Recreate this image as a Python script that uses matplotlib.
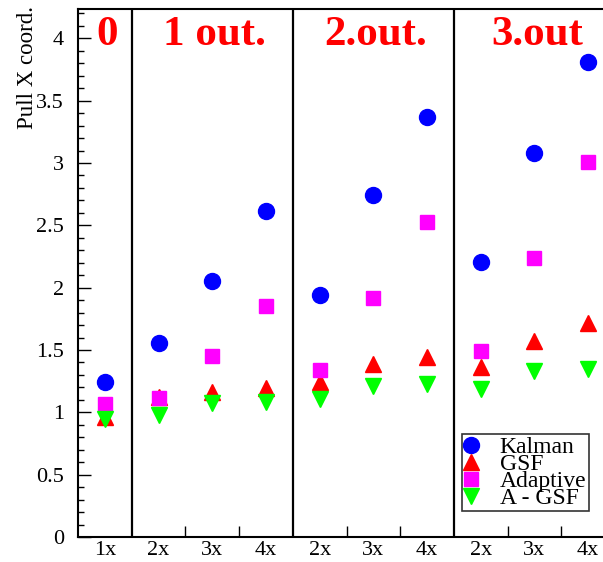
import matplotlib.pyplot as plt
import numpy as np
from matplotlib.ticker import MultipleLocator, FixedLocator

plt.rcParams["font.family"] = ["Liberation Serif", "DejaVu Serif"]

tick_labels = ["1x", "2x", "3x", "4x", "2x", "3x", "4x", "2x", "3x", "4x"]
group_labels = ["0", "1 out.", "2.out.", "3.out"]
group_bounds = [0, 1, 4, 7, 10]

kalman = [1.24, 1.555, 2.055, 2.615, 1.945, 2.74, 3.37, 2.205, 3.08, 3.81]
gsf = [0.96, 1.12, 1.165, 1.195, 1.245, 1.385, 1.44, 1.365, 1.57, 1.72]
adaptive = [1.065, 1.115, 1.45, 1.85, 1.34, 1.915, 2.53, 1.495, 2.24, 3.005]
agsf = [0.95, 0.975, 1.075, 1.085, 1.105, 1.215, 1.225, 1.185, 1.335, 1.345]

fig = plt.figure(figsize=(6.03, 5.62), dpi=100)
ax = fig.add_axes([78 / 603, 25 / 562, 537 / 603, 528 / 562])

x = np.arange(len(tick_labels)) + 0.5
ax.plot(x, kalman, "o", color="#0000ff", ms=11.5, label="Kalman", zorder=3)
ax.plot(x, gsf, "^", color="#ff0000", ms=11.5, label="GSF", zorder=3)
ax.plot(x, adaptive, "s", color="#ff00ff", ms=10.5, label="Adaptive", zorder=3)
ax.plot(x, agsf, "v", color="#00ff00", ms=11.5, label="A - GSF", zorder=3)

for b in group_bounds[1:-1]:
    ax.axvline(b, color="black", lw=1.6)

for i, lab in enumerate(group_labels):
    cx = (group_bounds[i] + group_bounds[i + 1]) / 2
    ax.text(cx + 0.05, 3.95, lab, color="red", fontsize=31, fontweight="bold",
            ha="center", va="baseline")

ax.set_xlim(0, 10)
ax.set_ylim(0, 4.235)
ax.set_xticks(x)
ax.set_xticklabels(tick_labels, fontsize=16)
ax.xaxis.set_minor_locator(FixedLocator([2, 3, 5, 6, 8, 9]))
ax.tick_params(axis="x", which="major", length=0, pad=3)
ax.tick_params(axis="x", which="minor", direction="in", length=8, width=1)

ax.yaxis.set_major_locator(MultipleLocator(0.5))
ax.yaxis.set_minor_locator(MultipleLocator(0.1))
ax.set_yticklabels([f"{v:g}" for v in ax.get_yticks()], fontsize=16)
ax.tick_params(axis="y", which="major", direction="in", length=9, width=1, pad=10)
ax.tick_params(axis="y", which="minor", direction="in", length=4, width=1)

ax.set_ylabel("Pull X coord.", fontsize=16.5, loc="top")
ax.yaxis.set_label_coords(-0.074, 1.005)

for s in ax.spines.values():
    s.set_linewidth(1.5)

leg = ax.legend(loc="lower left", bbox_to_anchor=(0.715, 0.049), fontsize=17,
                frameon=True, fancybox=False, edgecolor="black",
                borderpad=0.1, labelspacing=-0.2, handlelength=0.6,
                handletextpad=0.9, borderaxespad=0)
leg.get_frame().set_linewidth(1.2)

fig.savefig("out.png", dpi=100)
